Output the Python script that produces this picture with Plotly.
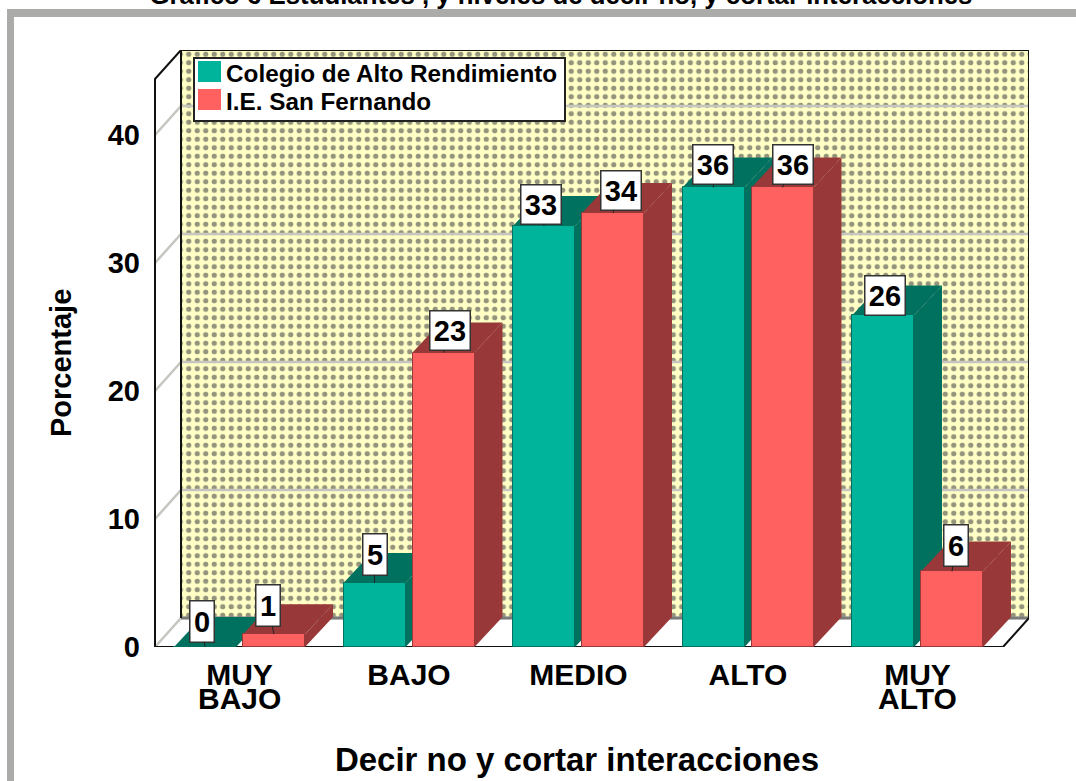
import plotly.graph_objects as go

CATEGORIES_TOP = ["MUY", "BAJO", "MEDIO", "ALTO", "MUY"]
CATEGORIES_BOTTOM = ["BAJO", "", "", "", "ALTO"]
SERIES_A_NAME = "Colegio de Alto Rendimiento"
SERIES_B_NAME = "I.E. San Fernando"
SERIES_A = [0.0, 5.0, 32.9, 35.9, 25.9]
SERIES_B = [1.0, 23.0, 33.9, 35.9, 5.9]
Y_TICKS = [0, 10, 20, 30, 40]
TITLE = "Gráfico 6 Estudiantes , y niveles de decir no, y cortar interacciones"
X_TITLE = "Decir no y cortar interacciones"
Y_TITLE = "Porcentaje"

# label box offsets from the bar-top, in pixels
A_AX = [-3, 0, -3, -1, 2]
A_AY = [-26, -29, -21, -23, -20]
B_AX = [-6, 6, 8, 10, 4]
B_AY = [-29, -22, -23, -23, -26]

W, H = 1076, 781
PL, PR, PT, PB = 125, 1029, 50, 647          # plot area pixels
PX_CAT, PX_UNIT = 169.5, 12.8                # px per category, px per %
X0_PX = 239.5
XMIN = (PL - X0_PX) / PX_CAT
XMAX = (PR - X0_PX) / PX_CAT
YMAX = (PB - PT) / PX_UNIT
FRONT_L = (155 - X0_PX) / PX_CAT
FRONT_R = (1003 - X0_PX) / PX_CAT
WALL_DX, WALL_DY = 26 / PX_CAT, 29 / PX_UNIT
BAR_DX, BAR_DY = 28 / PX_CAT, 30 / PX_UNIT
BAR_W = 62 / PX_CAT
OFFS = 34.5 / PX_CAT

FONT = "Liberation Sans"
GREEN, GREEN_D = "#00B39B", "#00705F"
RED, RED_D = "#FF6060", "#983838"

fig = go.Figure()


def poly(xs, ys, fill=None, line=None, lw=0, z=0, **kw):
    fig.add_trace(go.Scatter(
        x=xs, y=ys, mode="lines", fill="toself" if fill or kw else "none",
        fillcolor=fill, line=dict(color=line or "rgba(0,0,0,0)", width=lw),
        hoverinfo="skip", showlegend=False, cliponaxis=False, zorder=z, **kw))


back_l, back_r = FRONT_L + WALL_DX, FRONT_R + WALL_DX
top = YMAX

# back wall with dotted pattern
poly([back_l, back_r, back_r, back_l, back_l],
     [WALL_DY, WALL_DY, top, top, WALL_DY],
     z=0,
     fillpattern=dict(shape=".", bgcolor="#FFFFC6", fgcolor="#94947C",
                      size=8.5, solidity=0.3, fillmode="replace"))
# left wall
poly([FRONT_L, FRONT_L, back_l, back_l, FRONT_L],
     [0, top - WALL_DY, top, WALL_DY, 0], fill="#FFFFFF", z=0)
# floor
poly([FRONT_L, back_l, back_r, FRONT_R, FRONT_L],
     [0, WALL_DY, WALL_DY, 0, 0], fill="#FFFFFF", z=0)

# gridlines along both walls
for t in Y_TICKS:
    poly([FRONT_L, back_l, back_r], [t, t + WALL_DY, t + WALL_DY],
         line="#C6C6C0", lw=2.5, z=1)
poly([back_l, back_r], [WALL_DY, WALL_DY], line="#7A7A7A", lw=3, z=1)

# outlines
poly([back_l, back_l, back_r, back_r, FRONT_R, FRONT_L],
     [WALL_DY, top, top, WALL_DY, 0, 0], line="#111111", lw=2, z=2)
poly([FRONT_L, FRONT_L, back_l], [0, top - WALL_DY, top], line="#111111", lw=2, z=2)

# bars: depth faces, then the front through a real bar trace
cats = list(range(len(CATEGORIES_TOP)))
for idx, (vals, off, front, dark, name) in enumerate([
        (SERIES_A, -OFFS, GREEN, GREEN_D, SERIES_A_NAME),
        (SERIES_B, OFFS, RED, RED_D, SERIES_B_NAME)]):
    z = 3 + idx * 2
    for c, v in zip(cats, vals):
        l = c + off - BAR_W / 2
        r = c + off + BAR_W / 2
        # top face
        poly([l, l + BAR_DX, r + BAR_DX, r, l],
             [v, v + BAR_DY, v + BAR_DY, v, v], fill=dark, z=z)
        # side face
        poly([r, r + BAR_DX, r + BAR_DX, r, r],
             [0, BAR_DY, v + BAR_DY, v, 0], fill=dark, z=z)
    fig.add_trace(go.Bar(
        x=cats, y=vals, width=BAR_W, offset=off - BAR_W / 2, marker_color=front,
        marker_line=dict(color=dark, width=1), showlegend=False, zorder=z + 1,
        name=name, hovertemplate="%{y}<extra>" + name + "</extra>"))

annots = []
for vals, off, axs, ays in [(SERIES_A, -OFFS, A_AX, A_AY), (SERIES_B, OFFS, B_AX, B_AY)]:
    for c, v, ax, ay in zip(cats, vals, axs, ays):
        txt = str(round(v))
        two = len(txt) > 1
        annots.append(dict(
            x=c + off, y=v, xref="x", yref="y", text=f"<b>{txt}</b>",
            showarrow=True, arrowhead=0, arrowwidth=1, arrowcolor="#222222",
            ax=ax, ay=ay, axref="pixel", ayref="pixel",
            width=39 if two else 23, height=38 if two else 40,
            bgcolor="#FFFFFF", bordercolor="#333333", borderwidth=1.5, borderpad=0,
            font=dict(family=FONT, size=29, color="#000000")))

# second line of the two-line category labels
for c, t in zip(cats, CATEGORIES_BOTTOM):
    if t:
        annots.append(dict(
            x=c, y=0, xref="x", yref="y", text=f"<b>{t}</b>", showarrow=False,
            yanchor="middle", yshift=-51, font=dict(family=FONT, size=30, color="#000000")))


def px(x):
    return (x - PL) / (PR - PL)


def py(y):
    return (PB - y) / (PB - PT)


annots.append(dict(
    x=px(61), y=py(363), xref="paper", yref="paper", text=f"<b>{Y_TITLE}</b>", textangle=-90,
    xanchor="center", yanchor="middle", showarrow=False,
    font=dict(family=FONT, size=29, color="#000000")))

shapes = [
    dict(type="rect", xref="paper", yref="paper", layer="below",
         x0=px(7), x1=px(W), y0=py(9), y1=py(17), fillcolor="#ABABA9", line_width=0),
    dict(type="rect", xref="paper", yref="paper", layer="below",
         x0=px(7), x1=px(14), y0=py(9), y1=py(H), fillcolor="#ABABA9", line_width=0),
    # legend box and swatches
    dict(type="rect", xref="paper", yref="paper", layer="above",
         x0=px(194), x1=px(565), y0=py(58), y1=py(121), fillcolor="#FFFFFF",
         line=dict(color="#222222", width=2)),
    dict(type="rect", xref="paper", yref="paper", layer="above",
         x0=px(198), x1=px(221), y0=py(61), y1=py(82), fillcolor=GREEN, line_width=0),
    dict(type="rect", xref="paper", yref="paper", layer="above",
         x0=px(198), x1=px(221), y0=py(89), y1=py(110), fillcolor=RED, line_width=0),
]
for name, ly in [(SERIES_A_NAME, 73), (SERIES_B_NAME, 101)]:
    annots.append(dict(
        x=px(224), y=py(ly), xref="paper", yref="paper", text=f"<b>{name}</b>",
        xanchor="left", yanchor="middle", showarrow=False,
        font=dict(family=FONT, size=24.3, color="#000000")))

fig.update_layout(
    width=W, height=H, autosize=False, template=None,
    margin=dict(l=PL, r=W - PR, t=PT, b=H - PB, pad=0),
    paper_bgcolor="#FFFFFF", plot_bgcolor="rgba(0,0,0,0)",
    barmode="overlay", bargap=0,
    title=dict(text=f"<b>{TITLE}</b>", x=561 / W, xanchor="center", y=1, yanchor="bottom",
               pad=dict(b=-4), font=dict(family=FONT, size=25.8, color="#000000")),
    xaxis=dict(range=[XMIN, XMAX], tickmode="array", tickvals=cats, ticktext=[f"<b>{t}</b>" for t in CATEGORIES_TOP],
               showgrid=False, zeroline=False, showline=False, ticks="", ticklabelstandoff=7,
               tickfont=dict(family=FONT, size=30, color="#000000"),
               title=dict(text=f"<b>{X_TITLE}</b>", standoff=57,
                          font=dict(family=FONT, size=33, color="#000000"))),
    yaxis=dict(range=[0, YMAX], tickmode="array", tickvals=Y_TICKS, ticktext=[f"<b>{t}</b>" for t in Y_TICKS],
               showgrid=False, zeroline=False, showline=False, ticks="", ticklabelstandoff=-16,
               tickfont=dict(family=FONT, size=29, color="#000000")),
    annotations=annots, shapes=shapes, showlegend=False,
)

fig.write_html("out.html", config={"displayModeBar": False},
               post_script="document.body.style.margin='0';document.body.style.overflow='hidden';")
